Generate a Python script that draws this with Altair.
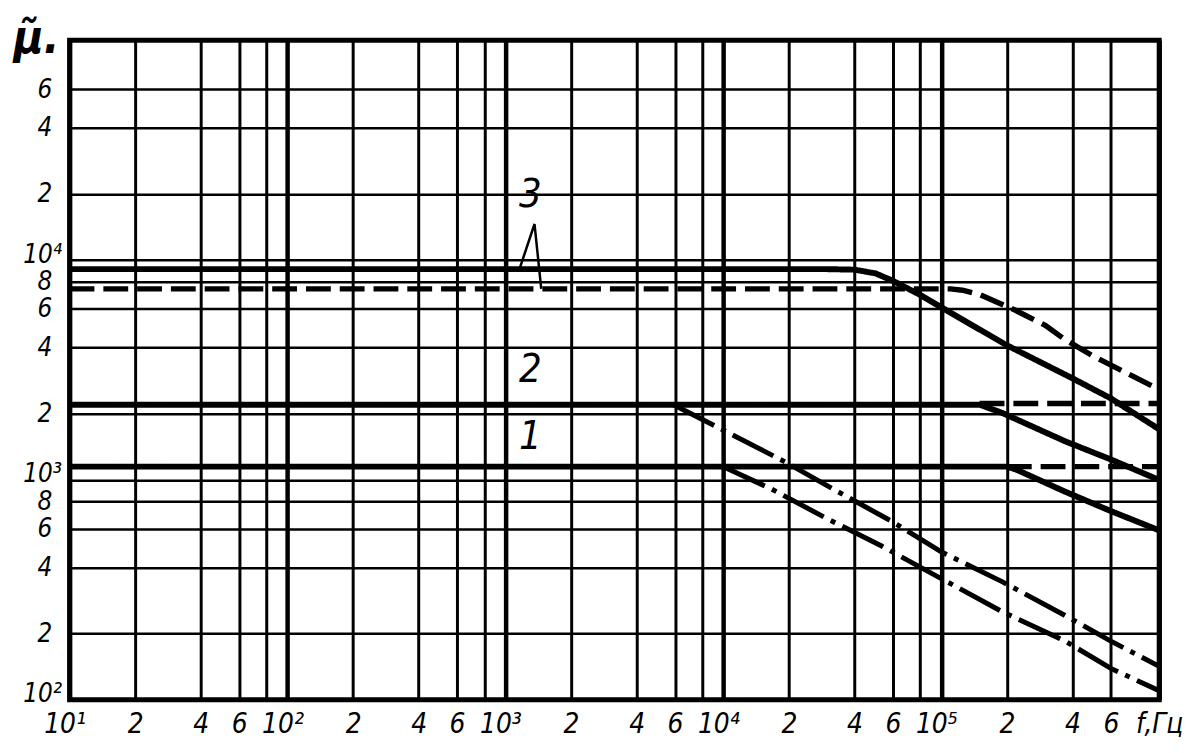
import json
import altair as alt
import pandas as pd

# ---- axis ticks / labels ----
x_ticks = [10, 20, 40, 60, 80, 100, 200, 400, 600, 800, 1000, 2000, 4000, 6000, 8000,
           10000, 20000, 40000, 60000, 80000, 100000, 200000, 400000, 600000, 1000000]
x_labels = ["10¹", "2", "4", "6", "", "10²", "2", "4", "6", "", "10³", "2", "4", "6", "",
            "10⁴", "2", "4", "6", "", "10⁵", "2", "4", "6", "f,Гц"]
y_ticks = [100, 200, 400, 600, 800, 1000, 2000, 4000, 6000, 8000, 10000, 20000, 40000, 60000, 100000]
y_labels = ["10²", "2", "4", "6", "8", "10³", "2", "4", "6", "8", "10⁴", "2", "4", "6", ""]
x_decades = [10, 100, 1000, 10000, 100000, 1000000]
y_decades = [100, 1000, 10000, 100000]

# ---- curves (f in Hz, mu) ----
c3_solid_f = [10, 30000, 40000, 50000, 60000, 80000, 100000, 200000, 400000, 600000, 1000000]
c3_solid_mu = [9100, 9100, 9050, 8700, 8050, 6950, 6100, 4100, 2900, 2350, 1700]

c3_dash_f = [10, 110000, 125000, 150000, 220000, 300000, 370000, 500000, 1000000]
c3_dash_mu = [7400, 7400, 7300, 6980, 5900, 5050, 4350, 3650, 2580]

c2_solid_f = [10, 150000, 190000, 370000, 600000, 1000000]
c2_solid_mu = [2200, 2200, 2020, 1500, 1240, 1000]

c2_dash_f = [150000, 1000000]
c2_dash_mu = [2230, 2230]

c2_dd_f = [5900, 9500, 19000, 32000, 59000, 100000, 190000, 370000, 600000, 1000000]
c2_dd_mu = [2200, 1730, 1215, 908, 650, 471, 345, 242, 185, 142]

c1_solid_f = [10, 200000, 220000, 370000, 600000, 1000000]
c1_solid_mu = [1150, 1150, 1117, 885, 722, 590]

c1_dash_f = [200000, 1000000]
c1_dash_mu = [1150, 1150]

c1_dd_f = [10000, 16700, 29000, 53000, 100000, 190000, 370000, 600000, 1000000]
c1_dd_mu = [1150, 908, 678, 502, 356, 252, 185, 139, 110]

# ---- annotations ----
label_text = ["3", "2", "1"]
label_f = [1300, 1300, 1300]
label_mu = [19800, 3150, 1570]

pointer_f = [1160, 1360, 1460]
pointer_mu = [9100, 14600, 7400]

rows = []
def add(name, style, fs, mus):
    for f, m in zip(fs, mus):
        rows.append({"series": name, "style": style, "f": f, "mu": m})

add("3s", "solid", c3_solid_f, c3_solid_mu)
add("3d", "dashed", c3_dash_f, c3_dash_mu)
add("2s", "solid", c2_solid_f, c2_solid_mu)
add("2d", "dashed", c2_dash_f, c2_dash_mu)
add("2dd", "dashdot", c2_dd_f, c2_dd_mu)
add("1s", "solid", c1_solid_f, c1_solid_mu)
add("1d", "dashed", c1_dash_f, c1_dash_mu)
add("1dd", "dashdot", c1_dd_f, c1_dd_mu)
df = pd.DataFrame(rows)

lab_df = pd.DataFrame({"text": label_text, "f": label_f, "mu": label_mu})
ptr_df = pd.DataFrame({"f": pointer_f, "mu": pointer_mu, "k": list(range(len(pointer_f)))})

FONT = "Liberation Sans Narrow, DejaVu Sans Condensed, Liberation Sans"

def lexpr(ticks, labels):
    return f"{json.dumps(labels, ensure_ascii=False)}[indexof({json.dumps(ticks)}, datum.value)]"

xdec_test = f"indexof({json.dumps(x_decades)}, datum.value) >= 0"
ydec_test = f"indexof({json.dumps(y_decades)}, datum.value) >= 0"

xscale = alt.Scale(type="log", domain=[10, 1000000], nice=False)
yscale = alt.Scale(type="log", domain=[100, 100000], nice=False)

xaxis = alt.Axis(
    values=x_ticks, labelExpr=lexpr(x_ticks, x_labels), title=None,
    ticks=False, domain=False, grid=True, gridColor="black",
    gridWidth={"condition": {"test": xdec_test, "value": 4.5}, "value": 3},
    gridOpacity=1,
    labelFont=FONT, labelFontStyle="italic", labelFontSize=28, labelColor="black",
    labelPadding=11, labelFlush=False, labelOverlap=False, labelBound=False,
    labelOffset={"condition": {"test": xdec_test + " && datum.value < 1000000", "value": -5}, "value": 0},
)
yaxis = alt.Axis(
    values=y_ticks, labelExpr=lexpr(y_ticks, y_labels),
    title="μ̃.", titleAngle=0, titleX=-34, titleY=12, titleAlign="center",
    titleBaseline="alphabetic", titleFontSize=46, titleFont=FONT, titleFontStyle="italic",
    titleFontWeight="bold", titleColor="black",
    ticks=False, domain=False, grid=True, gridColor="black", gridWidth=2.5, gridOpacity=1,
    labelFont=FONT, labelFontStyle="italic", labelFontSize=26, labelColor="black",
    labelPadding={"condition": {"test": ydec_test, "value": 8}, "value": 18},
    labelOffset={"condition": {"test": ydec_test, "value": -6}, "value": 0},
    labelOverlap=False, labelBound=False, labelFlush=False,
)

lines = alt.Chart(df).mark_line(color="black", strokeCap="butt", clip=True).encode(
    x=alt.X("f:Q", scale=xscale, axis=xaxis),
    y=alt.Y("mu:Q", scale=yscale, axis=yaxis),
    detail="series:N",
    order="f:Q",
    strokeDash=alt.StrokeDash("style:N", scale=alt.Scale(domain=["solid", "dashed", "dashdot"],
                                                          range=[[1, 0], [25, 9], [46, 8, 5, 8]]), legend=None),
    strokeWidth=alt.StrokeWidth("style:N", scale=alt.Scale(domain=["solid", "dashed", "dashdot"],
                                                            range=[6, 5, 5]), legend=None),
)

pointer = alt.Chart(ptr_df).mark_line(color="black", strokeWidth=2.5).encode(
    x=alt.X("f:Q", scale=xscale), y=alt.Y("mu:Q", scale=yscale), order="k:Q")

labels = alt.Chart(lab_df).mark_text(font=FONT, fontStyle="italic", fontSize=40, color="black",
                                     align="center", baseline="middle").encode(
    x=alt.X("f:Q", scale=xscale), y=alt.Y("mu:Q", scale=yscale), text="text:N")

chart = alt.layer(lines, pointer, labels).properties(
    width=1097, height=664,
    padding={"left": 62, "top": 30, "right": 28, "bottom": 48},
    autosize=alt.AutoSizeParams(type="none"),
    background="white",
).configure_view(stroke="black", strokeWidth=5)

chart.save("out.html", embed_options={"renderer": "svg", "actions": False})
